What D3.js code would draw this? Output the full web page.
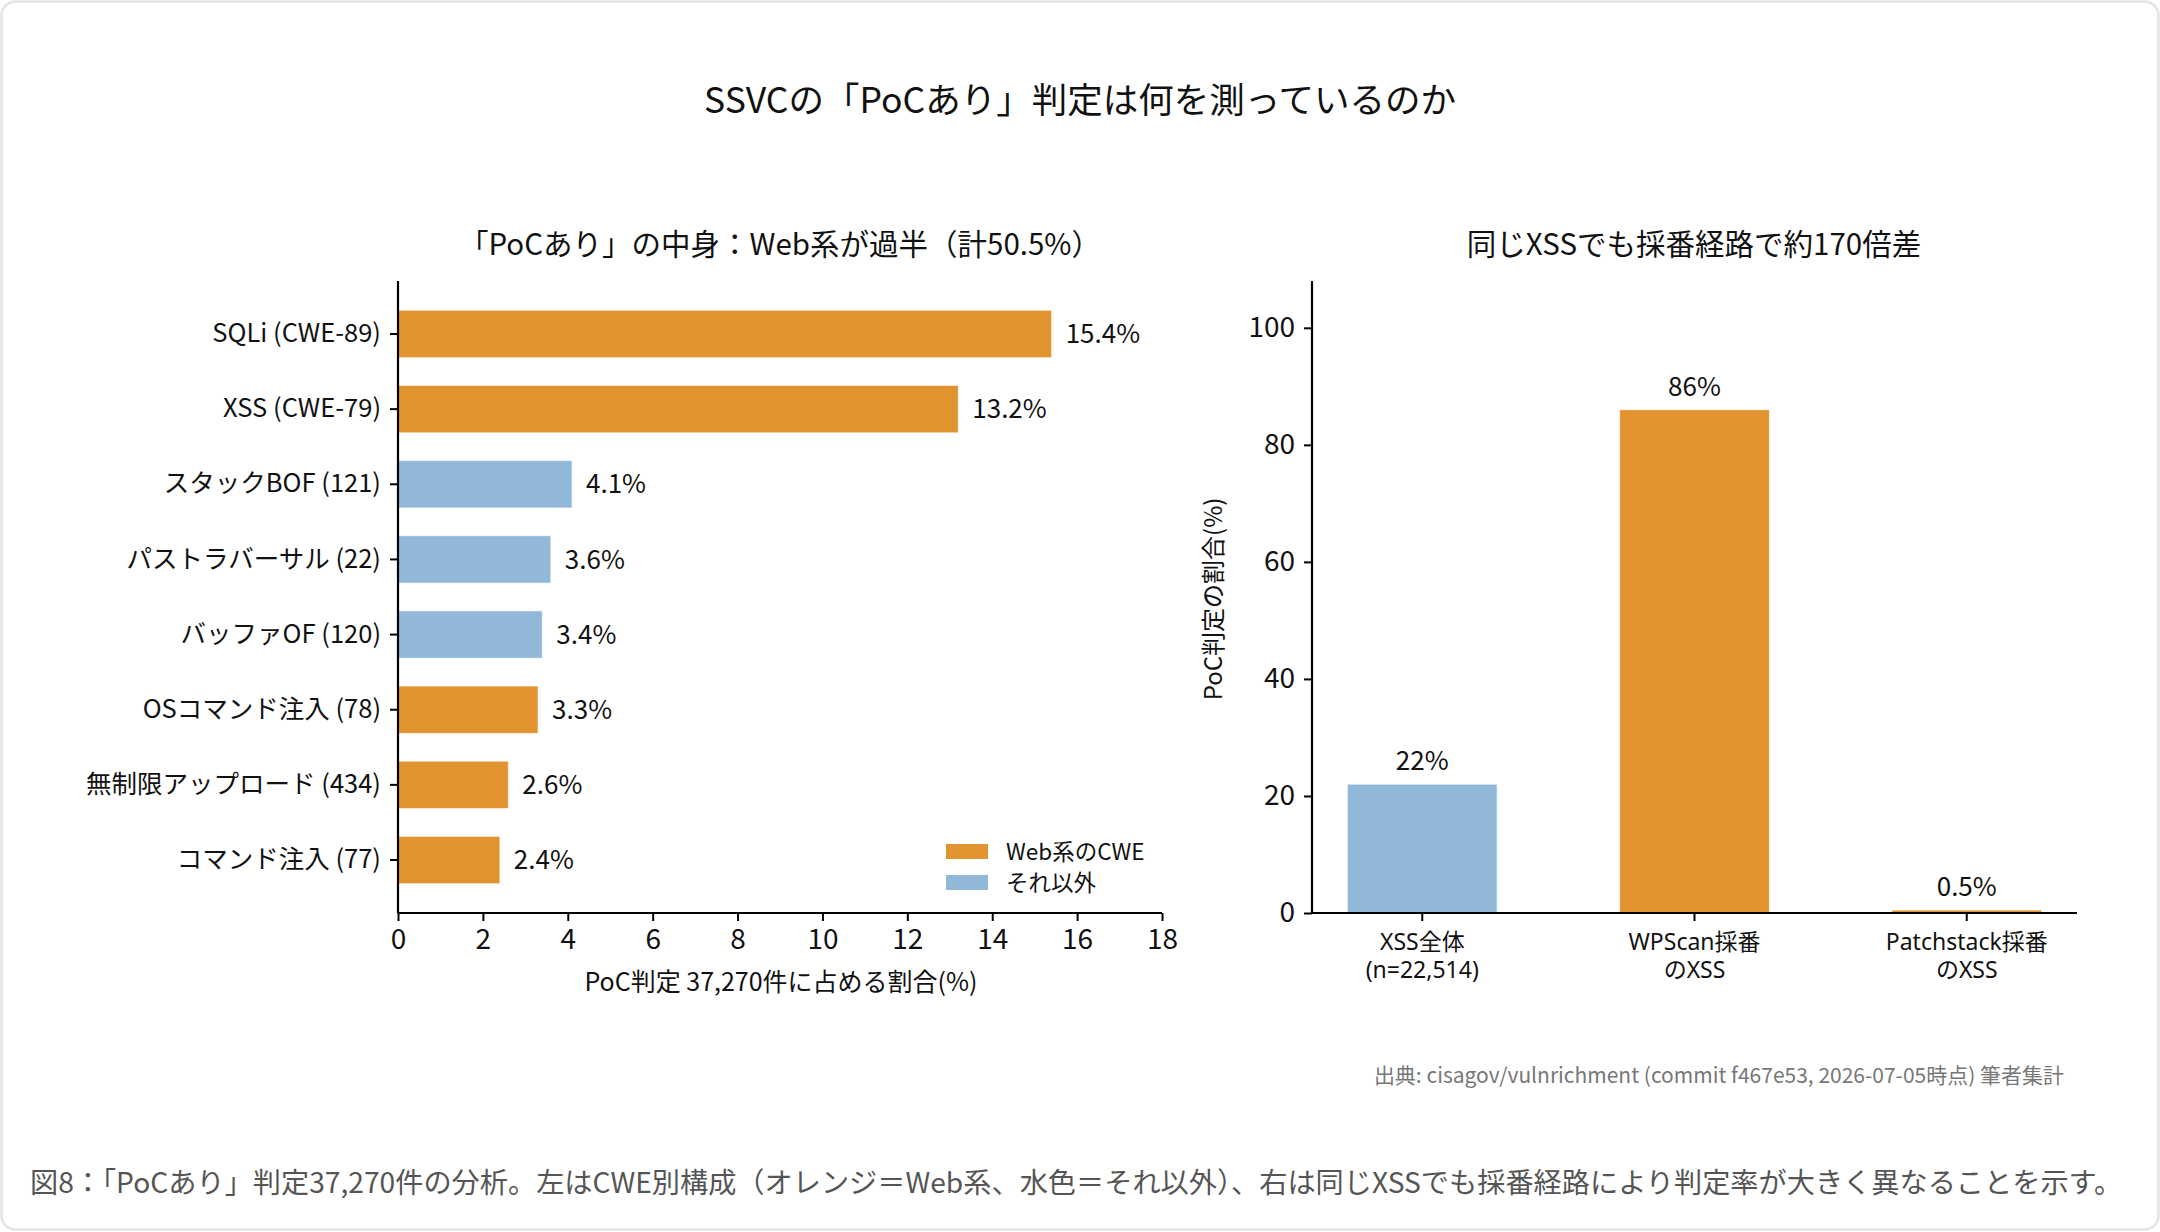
<!DOCTYPE html>
<html>
<head>
<meta charset="utf-8">
<title>SSVC PoC</title>
<script src="https://d3js.org/d3.v7.min.js"></script>
<style>
  body { margin: 0; background: #fff; }
  text { font-family: "Noto Sans CJK JP", "Noto Sans", sans-serif; fill: #111; }
  text.route { font-family: "Noto Sans", "Noto Sans CJK JP", sans-serif; }
</style>
</head>
<body>
<script>

// left panel data
var categories = ["SQLi (CWE-89)", "XSS (CWE-79)", "スタックBOF (121)", "パストラバーサル (22)",
                  "バッファOF (120)", "OSコマンド注入 (78)", "無制限アップロード (434)", "コマンド注入 (77)"];
var shares = [15.4, 13.2, 4.1, 3.6, 3.4, 3.3, 2.6, 2.4];
var isWeb = [true, true, false, false, false, true, true, true];
var shareTicks = [0, 2, 4, 6, 8, 10, 12, 14, 16, 18];

// right panel data
var routes = [["XSS全体", "(n=22,514)"], ["WPScan採番", "のXSS"], ["Patchstack採番", "のXSS"]];
var routeRates = [22, 86, 0.5];
var routeLabels = ["22%", "86%", "0.5%"];
var routeWeb = [false, true, true];
var rateTicks = [0, 20, 40, 60, 80, 100];

var width = 2160,
    height = 1232,
    orange = "#E0932E",
    blue = "#91B8D9";

var svg = d3.select("body").append("svg")
    .attr("width", width)
    .attr("height", height);

// card
svg.append("rect")
    .attr("x", 1.5).attr("y", 1.5)
    .attr("width", width - 3).attr("height", height - 4)
    .attr("rx", 14)
    .attr("fill", "#fff")
    .attr("stroke", "#e1e4e8")
    .attr("stroke-width", 2.5);

svg.append("text")
    .attr("x", 1080).attr("y", 113)
    .attr("text-anchor", "middle")
    .style("font-size", "35.5px")
    .text("SSVCの「PoCあり」判定は何を測っているのか");

// ---------- left: horizontal bars ----------
var L = {left: 398, right: 1162, top: 281, bottom: 913};

var x = d3.scaleLinear().domain([0, 18]).range([L.left, L.right]);
var y = d3.scaleBand().domain(categories).range([L.top, L.bottom])
    .paddingInner(0.37).paddingOuter(0.39);

var gl = svg.append("g");

gl.append("text")
    .attr("x", 780).attr("y", 255)
    .attr("text-anchor", "middle")
    .style("font-size", "29.5px")
    .text("「PoCあり」の中身：Web系が過半（計50.5%）");

gl.selectAll("rect.bar")
    .data(categories)
    .enter().append("rect")
    .attr("class", "bar")
    .attr("x", x(0))
    .attr("y", function(d) { return y(d); })
    .attr("width", function(d, i) { return x(shares[i]) - x(0); })
    .attr("height", y.bandwidth())
    .attr("fill", function(d, i) { return isWeb[i] ? orange : blue; })
    .attr("stroke", "#fff")
    .attr("stroke-opacity", 0.6)
    .attr("stroke-width", 1);

gl.selectAll("text.val")
    .data(categories)
    .enter().append("text")
    .attr("class", "val")
    .attr("x", function(d, i) { return x(shares[i]) + 14; })
    .attr("y", function(d) { return y(d) + y.bandwidth() / 2; })
    .attr("dy", "0.35em")
    .style("font-size", "26px")
    .text(function(d, i) { return shares[i].toFixed(1) + "%"; });

var xAxis = gl.append("g")
    .attr("transform", "translate(0," + L.bottom + ")")
    .call(d3.axisBottom(x).tickValues(shareTicks).tickSize(8).tickPadding(8).tickSizeOuter(0));
var yAxis = gl.append("g")
    .attr("transform", "translate(" + L.left + ",0)")
    .call(d3.axisLeft(y).tickSize(8).tickPadding(9).tickSizeOuter(0));
[xAxis, yAxis].forEach(function(a) {
  a.select(".domain").attr("stroke", "#000").attr("stroke-width", 2.2);
  a.selectAll(".tick line").attr("stroke", "#000").attr("stroke-width", 2);
  a.selectAll(".tick text").style("font-size", "25.5px").attr("fill", "#111");
});
xAxis.selectAll(".tick text").style("font-size", "28px");
// matplotlib-style spines: extend y spine to the top
yAxis.select(".domain").attr("d", "M0," + L.top + "V" + L.bottom);
xAxis.select(".domain").attr("d", "M" + L.left + ",0H" + L.right);

gl.append("text")
    .attr("x", 781).attr("y", 991)
    .attr("text-anchor", "middle")
    .style("font-size", "25px")
    .text("PoC判定 37,270件に占める割合(%)");

// legend
var legendItems = [{label: "Web系のCWE", color: orange}, {label: "それ以外", color: blue}];
var lg = gl.append("g").attr("transform", "translate(946,844)");
lg.selectAll("rect")
    .data(legendItems)
    .enter().append("rect")
    .attr("x", 0)
    .attr("y", function(d, i) { return i * 31; })
    .attr("width", 42).attr("height", 15)
    .attr("fill", function(d) { return d.color; });
lg.selectAll("text")
    .data(legendItems)
    .enter().append("text")
    .attr("x", 60)
    .attr("y", function(d, i) { return i * 31 + 8; })
    .attr("dy", "0.35em")
    .style("font-size", "22.5px")
    .text(function(d) { return d.label; });

// ---------- right: vertical bars ----------
var R = {left: 1312, right: 2077, top: 281, bottom: 913};

var xr = d3.scaleBand().domain(d3.range(routes.length)).range([R.left, R.right])
    .paddingInner(0.45).paddingOuter(0.13);
var yr = d3.scaleLinear().domain([0, 108]).range([R.bottom, R.top]);

var gr = svg.append("g");

gr.append("text")
    .attr("x", 1694).attr("y", 255)
    .attr("text-anchor", "middle")
    .style("font-size", "29.5px")
    .text("同じXSSでも採番経路で約170倍差");

gr.selectAll("rect.bar")
    .data(routeRates)
    .enter().append("rect")
    .attr("class", "bar")
    .attr("x", function(d, i) { return xr(i); })
    .attr("y", function(d) { return yr(d); })
    .attr("width", xr.bandwidth())
    .attr("height", function(d) { return yr(0) - yr(d); })
    .attr("fill", function(d, i) { return routeWeb[i] ? orange : blue; })
    .attr("stroke", "#fff")
    .attr("stroke-opacity", 0.6)
    .attr("stroke-width", 1);

gr.selectAll("text.val")
    .data(routeRates)
    .enter().append("text")
    .attr("class", "val")
    .attr("x", function(d, i) { return xr(i) + xr.bandwidth() / 2; })
    .attr("y", function(d) { return yr(d) - 14; })
    .attr("text-anchor", "middle")
    .style("font-size", "26px")
    .text(function(d, i) { return routeLabels[i]; });

var xrAxis = gr.append("g")
    .attr("transform", "translate(0," + R.bottom + ")")
    .call(d3.axisBottom(xr).tickSize(8).tickFormat("").tickSizeOuter(0));
var yrAxis = gr.append("g")
    .attr("transform", "translate(" + R.left + ",0)")
    .call(d3.axisLeft(yr).tickValues(rateTicks).tickSize(8).tickPadding(9).tickSizeOuter(0));
[xrAxis, yrAxis].forEach(function(a) {
  a.select(".domain").attr("stroke", "#000").attr("stroke-width", 2.2);
  a.selectAll(".tick line").attr("stroke", "#000").attr("stroke-width", 2);
  a.selectAll(".tick text").style("font-size", "28px").attr("fill", "#111");
});
yrAxis.select(".domain").attr("d", "M0," + R.top + "V" + R.bottom);
xrAxis.select(".domain").attr("d", "M" + R.left + ",0H" + R.right);

// two-line category labels, one text per line
xrAxis.selectAll(".tick").each(function(d) {
  var tick = d3.select(this);
  routes[d].forEach(function(line, k) {
    tick.append("text")
        .attr("class", "route")
        .attr("text-anchor", "middle")
        .attr("y", 29 + k * 28)
        .attr("dy", "0.35em")
        .style("font-size", "23px")
        .attr("fill", "#111")
        .text(line);
  });
});

gr.append("text")
    .attr("transform", "translate(1222,599) rotate(-90)")
    .attr("text-anchor", "middle")
    .style("font-size", "24px")
    .text("PoC判定の割合(%)");

// source + caption
svg.append("text")
    .attr("x", 2064).attr("y", 1083)
    .attr("text-anchor", "end")
    .style("font-size", "21px")
    .style("fill", "#777")
    .text("出典: cisagov/vulnrichment (commit f467e53, 2026-07-05時点) 筆者集計");

svg.append("text")
    .attr("x", 30).attr("y", 1193)
    .style("font-size", "28.2px")
    .style("fill", "#555")
    .text("図8：「PoCあり」判定37,270件の分析。左はCWE別構成（オレンジ＝Web系、水色＝それ以外）、右は同じXSSでも採番経路により判定率が大きく異なることを示す。");

</script>
</body>
</html>
